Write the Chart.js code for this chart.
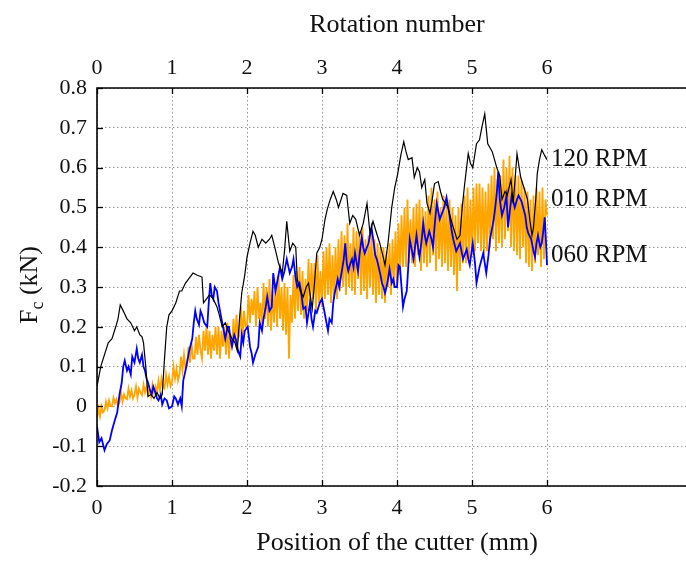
<!DOCTYPE html>
<html>
<head>
<meta charset="utf-8">
<script src="https://cdn.jsdelivr.net/npm/chart.js@4"></script>
<style>
html,body{margin:0;padding:0;background:#fff;overflow:hidden;width:686px;height:561px;}
#wrap{position:absolute;left:0;top:0;width:720px;height:561px;}
</style>
</head>
<body>
<div id="wrap"><canvas id="c" width="720" height="561"></canvas></div>
<script>
// ---------- data ----------
const xTickLabels = [0, 1, 2, 3, 4, 5, 6];
const yTickLabels = [-0.2, -0.1, 0, 0.1, 0.2, 0.3, 0.4, 0.5, 0.6, 0.7, 0.8];
const seriesNames = ['120 RPM', '010 RPM', '060 RPM'];

// 120 RPM (black) : [position mm, Fc kN]
const rpm120 = [
[0,0.05],[0.05,0.1],[0.1,0.13],[0.15,0.16],[0.2,0.17],[0.25,0.2],[0.28,0.22],[0.31,0.255],[0.35,0.24],[0.4,0.22],
[0.45,0.21],[0.5,0.19],[0.53,0.2],[0.57,0.18],[0.6,0.175],[0.62,0.16],[0.65,0.1],[0.68,0.025],[0.72,0.03],[0.76,0.02],
[0.8,0.035],[0.84,0.02],[0.87,0.03],[0.9,0.12],[0.93,0.2],[0.96,0.23],[1.0,0.24],[1.05,0.26],[1.1,0.29],[1.13,0.29],
[1.18,0.31],[1.22,0.32],[1.28,0.335],[1.33,0.33],[1.4,0.325],[1.42,0.26],[1.46,0.27],[1.5,0.28],[1.55,0.27],[1.6,0.25],
[1.63,0.23],[1.67,0.2],[1.71,0.21],[1.75,0.19],[1.8,0.17],[1.84,0.16],[1.87,0.14],[1.9,0.22],[1.93,0.285],[1.97,0.33],
[2.0,0.375],[2.04,0.41],[2.08,0.44],[2.11,0.43],[2.15,0.4],[2.2,0.42],[2.25,0.41],[2.3,0.42],[2.33,0.43],[2.37,0.4],
[2.42,0.36],[2.47,0.335],[2.5,0.39],[2.53,0.465],[2.57,0.39],[2.61,0.41],[2.65,0.4],[2.67,0.32],[2.71,0.29],[2.75,0.275],
[2.79,0.3],[2.82,0.31],[2.85,0.27],[2.87,0.245],[2.9,0.31],[2.93,0.385],[2.97,0.4],[3.0,0.42],[3.04,0.47],[3.07,0.495],
[3.11,0.52],[3.15,0.54],[3.19,0.52],[3.22,0.5],[3.28,0.535],[3.33,0.53],[3.37,0.46],[3.41,0.48],[3.45,0.47],[3.5,0.43],
[3.55,0.46],[3.6,0.51],[3.64,0.435],[3.68,0.465],[3.72,0.44],[3.77,0.41],[3.81,0.38],[3.84,0.355],[3.88,0.41],[3.93,0.5],
[3.97,0.55],[4.01,0.585],[4.05,0.63],[4.09,0.665],[4.12,0.64],[4.15,0.62],[4.2,0.625],[4.23,0.575],[4.27,0.6],[4.3,0.59],
[4.33,0.55],[4.37,0.57],[4.4,0.51],[4.44,0.485],[4.47,0.52],[4.5,0.56],[4.55,0.565],[4.58,0.54],[4.61,0.52],[4.65,0.51],
[4.68,0.5],[4.72,0.47],[4.75,0.45],[4.8,0.42],[4.84,0.43],[4.87,0.5],[4.9,0.555],[4.95,0.635],[4.98,0.61],[5.01,0.6],
[5.06,0.66],[5.1,0.67],[5.13,0.7],[5.17,0.735],[5.21,0.66],[5.24,0.65],[5.27,0.64],[5.3,0.62],[5.33,0.6],[5.37,0.58],
[5.4,0.52],[5.44,0.54],[5.47,0.53],[5.52,0.57],[5.55,0.51],[5.6,0.635],[5.65,0.575],[5.7,0.545],[5.74,0.52],[5.77,0.47],
[5.8,0.43],[5.82,0.45],[5.85,0.52],[5.87,0.585],[5.9,0.62],[5.93,0.645],[5.97,0.63],[6.0,0.62]
];

// 060 RPM (blue) : [position mm, Fc kN]
const rpm060 = [
[0,-0.05],[0.03,-0.09],[0.06,-0.08],[0.1,-0.11],[0.13,-0.095],[0.17,-0.085],[0.2,-0.06],[0.23,-0.04],[0.27,-0.015],[0.3,0.03],
[0.33,0.06],[0.35,0.1],[0.37,0.115],[0.4,0.09],[0.42,0.1],[0.45,0.08],[0.47,0.125],[0.5,0.11],[0.53,0.145],[0.55,0.12],
[0.57,0.11],[0.6,0.13],[0.62,0.1],[0.64,0.09],[0.66,0.07],[0.68,0.06],[0.7,0.045],[0.73,0.03],[0.75,0.05],[0.77,0.04],
[0.8,0.02],[0.82,0.015],[0.85,0.03],[0.87,0.005],[0.9,0.02],[0.93,0.015],[0.96,-0.005],[1.0,0.0],[1.03,0.025],[1.05,0.02],
[1.08,0.005],[1.11,0.02],[1.13,0.0],[1.15,0.065],[1.18,0.09],[1.2,0.11],[1.23,0.14],[1.27,0.17],[1.29,0.21],[1.31,0.24],
[1.33,0.22],[1.36,0.205],[1.38,0.24],[1.4,0.23],[1.43,0.21],[1.47,0.2],[1.49,0.26],[1.51,0.31],[1.53,0.28],[1.55,0.27],
[1.57,0.3],[1.6,0.29],[1.62,0.26],[1.64,0.24],[1.67,0.21],[1.69,0.19],[1.71,0.17],[1.74,0.2],[1.76,0.2],[1.78,0.17],
[1.8,0.15],[1.83,0.18],[1.85,0.17],[1.88,0.14],[1.91,0.125],[1.93,0.18],[1.95,0.16],[1.97,0.19],[2.01,0.2],[2.04,0.15],
[2.06,0.135],[2.08,0.11],[2.11,0.13],[2.15,0.15],[2.17,0.21],[2.2,0.19],[2.22,0.22],[2.25,0.25],[2.27,0.275],[2.3,0.24],
[2.33,0.25],[2.35,0.335],[2.38,0.29],[2.4,0.31],[2.44,0.35],[2.47,0.32],[2.5,0.34],[2.53,0.37],[2.57,0.335],[2.6,0.35],
[2.62,0.37],[2.65,0.32],[2.67,0.3],[2.7,0.31],[2.72,0.29],[2.75,0.245],[2.78,0.25],[2.8,0.21],[2.84,0.26],[2.86,0.22],
[2.88,0.2],[2.91,0.24],[2.93,0.235],[2.97,0.26],[3.0,0.27],[3.02,0.25],[3.04,0.23],[3.06,0.21],[3.08,0.19],[3.1,0.22],
[3.13,0.21],[3.15,0.26],[3.17,0.285],[3.21,0.32],[3.23,0.3],[3.26,0.335],[3.29,0.37],[3.31,0.41],[3.33,0.36],[3.35,0.34],
[3.38,0.36],[3.4,0.37],[3.42,0.35],[3.44,0.385],[3.48,0.34],[3.5,0.38],[3.53,0.425],[3.55,0.4],[3.57,0.385],[3.6,0.4],
[3.62,0.41],[3.64,0.43],[3.66,0.45],[3.69,0.41],[3.71,0.38],[3.73,0.37],[3.75,0.355],[3.78,0.33],[3.8,0.31],[3.82,0.3],
[3.84,0.285],[3.86,0.3],[3.88,0.32],[3.9,0.345],[3.93,0.31],[3.95,0.32],[3.97,0.3],[4.0,0.3],[4.02,0.355],[4.04,0.35],
[4.06,0.3],[4.08,0.25],[4.1,0.27],[4.13,0.29],[4.15,0.35],[4.17,0.42],[4.2,0.39],[4.22,0.37],[4.26,0.43],[4.28,0.4],
[4.3,0.375],[4.33,0.42],[4.35,0.46],[4.37,0.43],[4.39,0.41],[4.43,0.44],[4.46,0.42],[4.48,0.4],[4.5,0.45],[4.53,0.51],
[4.55,0.49],[4.57,0.47],[4.61,0.49],[4.63,0.5],[4.66,0.525],[4.7,0.48],[4.73,0.44],[4.75,0.42],[4.79,0.39],[4.84,0.41],
[4.86,0.39],[4.88,0.37],[4.93,0.395],[4.95,0.37],[4.97,0.355],[5.01,0.41],[5.04,0.36],[5.06,0.31],[5.08,0.33],[5.1,0.35],
[5.15,0.385],[5.17,0.36],[5.19,0.335],[5.22,0.38],[5.24,0.42],[5.27,0.45],[5.29,0.47],[5.31,0.5],[5.33,0.535],[5.35,0.59],
[5.37,0.52],[5.4,0.48],[5.43,0.5],[5.46,0.53],[5.48,0.45],[5.51,0.5],[5.53,0.53],[5.57,0.5],[5.6,0.52],[5.62,0.53],
[5.66,0.515],[5.71,0.48],[5.73,0.45],[5.75,0.435],[5.79,0.42],[5.82,0.39],[5.84,0.375],[5.86,0.41],[5.88,0.43],[5.91,0.4],
[5.93,0.41],[5.95,0.44],[5.97,0.475],[5.99,0.4],[6.0,0.355]
];

// 010 RPM (orange) : Fc kN sampled every 0.02 mm from 0 to 6 mm
const rpm010Step = 0.02;
const rpm010 = [
-0.03,-0.005,-0.025,0.0,-0.015, -0.01,0.012,-0.005,0.015,0.0, 0.0,0.022,0.008,0.018,0.0, 0.01,0.035,0.012,0.03,0.02,
0.018,0.045,0.025,0.04,0.02, 0.03,0.05,0.022,0.045,0.035, 0.028,0.055,0.035,0.05,0.03, 0.045,0.025,0.055,0.035,0.05,
0.035,0.065,0.04,0.07,0.05, 0.045,0.08,0.055,0.075,0.05, 0.06,0.1,0.07,0.095,0.065, 0.08,0.125,0.09,0.13,0.095,
0.1,0.15,0.11,0.16,0.12, 0.12,0.175,0.13,0.18,0.14, 0.12,0.19,0.14,0.2,0.13, 0.19,0.12,0.18,0.14,0.2,
0.13,0.2,0.12,0.19,0.15, 0.2,0.13,0.21,0.12,0.18, 0.15,0.22,0.16,0.23,0.17, 0.18,0.25,0.17,0.24,0.2,
0.2,0.28,0.21,0.27,0.23, 0.29,0.2,0.3,0.22,0.26, 0.19,0.31,0.22,0.3,0.2, 0.32,0.19,0.29,0.21,0.31,
0.2,0.33,0.22,0.3,0.19, 0.31,0.18,0.3,0.12,0.28, 0.21,0.33,0.22,0.34,0.24, 0.35,0.23,0.34,0.22,0.32,
0.24,0.37,0.25,0.36,0.27, 0.36,0.24,0.38,0.26,0.34, 0.25,0.39,0.27,0.4,0.28, 0.41,0.26,0.38,0.27,0.4,
0.27,0.42,0.29,0.44,0.3, 0.43,0.28,0.46,0.3,0.41, 0.29,0.45,0.28,0.44,0.32, 0.44,0.28,0.45,0.29,0.42,
0.27,0.43,0.3,0.44,0.28, 0.42,0.26,0.41,0.28,0.4, 0.27,0.4,0.26,0.39,0.3, 0.41,0.28,0.42,0.3,0.44,
0.31,0.46,0.33,0.48,0.35, 0.5,0.35,0.52,0.36,0.47, 0.36,0.5,0.35,0.51,0.38, 0.52,0.34,0.5,0.36,0.49,
0.35,0.53,0.36,0.55,0.38, 0.52,0.34,0.54,0.37,0.5, 0.35,0.53,0.36,0.51,0.34, 0.52,0.35,0.5,0.33,0.48,
0.29,0.5,0.34,0.51,0.36, 0.53,0.36,0.55,0.37,0.52, 0.38,0.55,0.39,0.56,0.41, 0.56,0.39,0.55,0.38,0.54,
0.39,0.56,0.4,0.58,0.42, 0.6,0.39,0.57,0.41,0.58, 0.4,0.62,0.42,0.6,0.44, 0.63,0.4,0.6,0.39,0.58,
0.38,0.58,0.37,0.57,0.4, 0.55,0.36,0.54,0.35,0.52, 0.34,0.53,0.36,0.55,0.38, 0.54,0.35,0.55,0.37,0.52,
0.48
];

// where the series names sit at the right end (kN)
const nameAnchors = [0.62, 0.52, 0.38];

// ---------- build ----------
const toXY = arr => arr.map(p => ({x: p[0], y: p[1]}));
const orangeXY = rpm010.map((v, i) => ({x: +(i * rpm010Step).toFixed(3), y: v}));

const SERIF = '"Liberation Serif", "Times New Roman", serif';

const frameAndLabels = {
  id: 'frameAndLabels',
  afterDraw(chart) {
    const ctx = chart.ctx, a = chart.chartArea;
    const xs = chart.scales.x, ys = chart.scales.y;
    ctx.save();
    // inner tick marks
    ctx.strokeStyle = '#000'; ctx.lineWidth = 1.3;
    xTickLabels.forEach(t => {
      const px = Math.round(xs.getPixelForValue(t)) + 0.5;
      ctx.beginPath(); ctx.moveTo(px, a.top); ctx.lineTo(px, a.top + 6); ctx.stroke();
      ctx.beginPath(); ctx.moveTo(px, a.bottom); ctx.lineTo(px, a.bottom - 6); ctx.stroke();
    });
    yTickLabels.forEach(t => {
      const py = Math.round(ys.getPixelForValue(t)) + 0.5;
      ctx.beginPath(); ctx.moveTo(a.left, py); ctx.lineTo(a.left + 6, py); ctx.stroke();
    });
    // frame
    ctx.lineWidth = 1.6;
    ctx.beginPath();
    ctx.moveTo(a.right, a.top); ctx.lineTo(a.left, a.top); ctx.lineTo(a.left, a.bottom); ctx.lineTo(a.right, a.bottom);
    ctx.stroke();
    // series names
    ctx.fillStyle = '#111';
    ctx.font = '25px ' + SERIF;
    ctx.textBaseline = 'middle'; ctx.textAlign = 'left';
    seriesNames.forEach((n, i) => {
      ctx.fillText(n, xs.getPixelForValue(6) + 4, ys.getPixelForValue(nameAnchors[i]));
    });
    // y title with subscript
    ctx.translate(28, 285);
    ctx.rotate(-Math.PI / 2);
    ctx.textBaseline = 'alphabetic';
    const big = '26px ' + SERIF, small = '18px ' + SERIF;
    ctx.font = big; const wF = ctx.measureText('F').width;
    ctx.font = small; const wc = ctx.measureText('c').width;
    ctx.font = big; const wr = ctx.measureText(' (kN)').width;
    let x0 = -(wF + wc + wr) / 2;
    ctx.font = big; ctx.fillText('F', x0, 9);
    ctx.font = small; ctx.fillText('c', x0 + wF, 15);
    ctx.font = big; ctx.fillText(' (kN)', x0 + wF + wc, 9);
    ctx.restore();
  }
};

const onlyMainTicks = scale => {
  scale.ticks = xTickLabels.map(v => ({value: v}));
};

new Chart(document.getElementById('c'), {
  type: 'line',
  data: {
    datasets: [
      {label: seriesNames[0], data: toXY(rpm120), borderColor: '#000000', borderWidth: 1.2, order: 0},
      {label: seriesNames[2], data: toXY(rpm060), borderColor: '#0000ff', borderWidth: 1.8, order: 1},
      {label: seriesNames[1], data: orangeXY, borderColor: '#ffa500', borderWidth: 1.8, order: 2}
    ]
  },
  options: {
    responsive: false,
    animation: false,
    elements: {point: {radius: 0}, line: {tension: 0, fill: false}},
    layout: {padding: {left: 0, right: 23, top: 0, bottom: 0}},
    plugins: {legend: {display: false}, tooltip: {enabled: false}},
    scales: {
      x: {
        type: 'linear', position: 'bottom', min: 0, max: 8,
        afterBuildTicks: onlyMainTicks,
        afterFit: s => { s.height = 75; },
        border: {display: false, dash: [1.5, 2.5]},
        grid: {color: '#999999', lineWidth: 1, drawTicks: false},
        ticks: {color: '#111', font: {family: SERIF, size: 22}, padding: 9, autoSkip: false, maxRotation: 0},
        title: {display: true, text: 'Position of the cutter (mm)', color: '#111', font: {family: SERIF, size: 26}, padding: {top: 0, bottom: 2}}
      },
      x2: {
        type: 'linear', position: 'top', min: 0, max: 8,
        afterBuildTicks: onlyMainTicks,
        afterFit: s => { s.height = 88; },
        border: {display: false},
        grid: {display: false, drawTicks: false},
        ticks: {color: '#111', font: {family: SERIF, size: 22}, padding: 7, autoSkip: false, maxRotation: 0},
        title: {display: true, text: 'Rotation number', color: '#111', font: {family: SERIF, size: 26}, padding: {top: 10, bottom: 5}}
      },
      y: {
        type: 'linear', position: 'left', min: -0.2, max: 0.8,
        afterBuildTicks: s => { s.ticks = yTickLabels.map(v => ({value: v})); },
        afterFit: s => { s.width = 97; },
        border: {display: false, dash: [1.5, 2.5]},
        grid: {color: '#999999', lineWidth: 1, drawTicks: false},
        ticks: {color: '#111', font: {family: SERIF, size: 22}, padding: 10,
          callback: v => { const r = Math.round(v * 10) / 10; return r === 0 ? '0' : r.toFixed(1); }}
      }
    }
  },
  plugins: [frameAndLabels]
});
</script>
</body>
</html>
